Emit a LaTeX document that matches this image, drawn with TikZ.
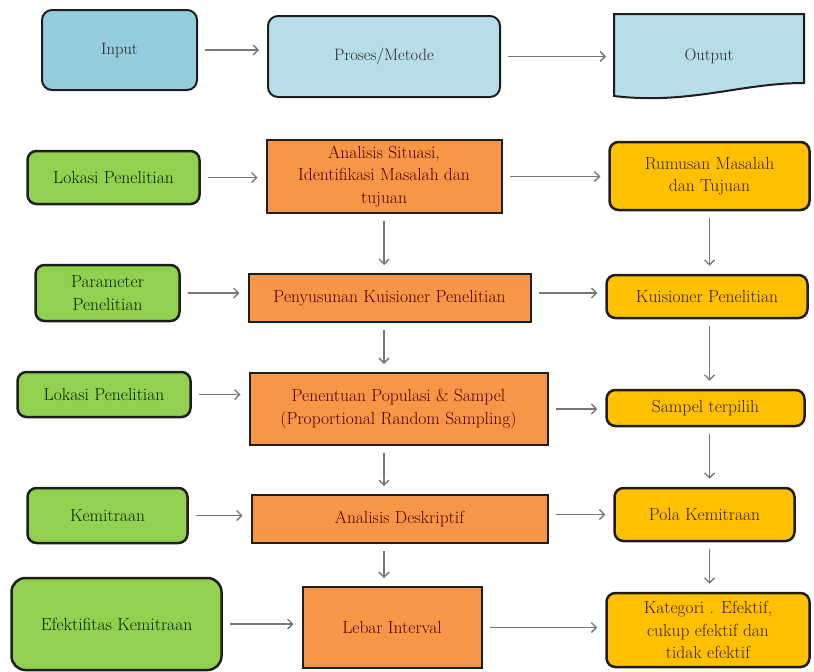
\documentclass[tikz,border=0pt]{standalone}
\usepackage{xcolor}
\usepackage{tikz}
\usetikzlibrary{shapes.geometric, arrows.meta, positioning, backgrounds}

\definecolor{inblue}{HTML}{93CDDD}
\definecolor{procblue}{HTML}{B7DEE8}
\definecolor{leafgreen}{HTML}{92D050}
\definecolor{tanorange}{HTML}{F79646}
\definecolor{goldyellow}{HTML}{FFC000}
\definecolor{edgedark}{HTML}{1E1E1E}
\definecolor{arrowgray}{HTML}{777777}

\tikzstyle{headbox} = [rectangle, rounded corners=10pt, draw=edgedark, line width=2pt, align=center, inner sep=0pt, text=black!85, font=\fontsize{16.5}{21}\selectfont]
\tikzstyle{sourcebox} = [rectangle, rounded corners=9pt, draw=edgedark, line width=2.5pt, fill=leafgreen, align=center, inner sep=0pt, text=green!15!black, font=\fontsize{17.5}{22.5}\selectfont]
\tikzstyle{process} = [rectangle, draw=edgedark, line width=2pt, fill=tanorange, align=center, inner sep=0pt, text=red!30!black, font=\fontsize{17.5}{22.5}\selectfont]
\tikzstyle{result} = [rectangle, rounded corners=9pt, draw=edgedark, line width=2.5pt, fill=goldyellow, align=center, inner sep=0pt, text=brown!25!black, font=\fontsize{17.5}{22.5}\selectfont]
\tikzstyle{line} = [draw, arrowgray, line width=1.3pt, -{Straight Barb[length=5pt,width=10pt]}, shorten <=7pt, shorten >=8pt]

\begin{document}
\begin{tikzpicture}[x=1pt, y=1pt]
    \useasboundingbox (0,0) rectangle (814,-672);

    % Legend
    \node [headbox, fill=procblue, minimum width=232pt, minimum height=81pt] at (384,-56.5) (proses) {Proses/Metode};
    \node [headbox, fill=inblue, left of=proses, node distance=264.5pt, yshift=6.5pt, minimum width=155pt, minimum height=80pt] (input) {Input};
    \node [headbox, draw=none, right of=proses, node distance=325pt, yshift=0.5pt, minimum width=188pt, minimum height=82pt] (output) {Output};
    \begin{scope}[on background layer]
        \draw [draw=edgedark, line width=2pt, fill=procblue] (output.north west) -- (output.north east) -- ([yshift=15pt]output.south east) .. controls ([xshift=-63pt,yshift=15pt]output.south east) and ([xshift=75pt,yshift=-7pt]output.south west) .. ([yshift=2pt]output.south west) -- cycle;
    \end{scope}

    % Proses
    \node [process, below of=proses, node distance=120pt, minimum width=235pt, minimum height=73pt] (analisis) {Analisis Situasi,\\Identifikasi Masalah dan\\tujuan};
    \node [process, below of=analisis, node distance=121.5pt, xshift=5.5pt, minimum width=282pt, minimum height=48pt] (penyusunan) {Penyusunan Kuisioner Penelitian};
    \node [process, below of=penyusunan, node distance=111pt, xshift=9pt, minimum width=298pt, minimum height=72pt] (penentuan) {Penentuan Populasi \& Sampel\\(Proportional Random Sampling)};
    \node [process, below of=penentuan, node distance=110pt, xshift=1pt, minimum width=296pt, minimum height=48pt] (deskriptif) {Analisis Deskriptif};
    \node [process, below of=deskriptif, node distance=108.5pt, xshift=-7.5pt, minimum width=179pt, minimum height=81pt] (lebar) {Lebar Interval};

    % Input
    \node [sourcebox, left of=analisis, node distance=270.5pt, yshift=-1pt, minimum width=172pt, minimum height=53pt] (lokasi1) {Lokasi Penelitian};
    \node [sourcebox, left of=penyusunan, node distance=282pt, yshift=5pt, minimum width=144pt, minimum height=56pt] (parameter) {Parameter\\Penelitian};
    \node [sourcebox, left of=penentuan, node distance=294.5pt, yshift=14.5pt, minimum width=173pt, minimum height=45pt] (lokasi2) {Lokasi Penelitian};
    \node [sourcebox, left of=deskriptif, node distance=292pt, yshift=3.5pt, minimum width=160pt, minimum height=55pt] (kemitraan) {Kemitraan};
    \node [sourcebox, rounded corners=14pt, left of=lebar, node distance=275.5pt, yshift=3.5pt, minimum width=210pt, minimum height=92pt] (efektifitas) {Efektifitas Kemitraan};

    % Output
    \node [result, right of=analisis, node distance=325.5pt, yshift=0.5pt, minimum width=200pt, minimum height=68pt] (rumusan) {Rumusan Masalah\\dan Tujuan};
    \node [result, right of=penyusunan, node distance=317.5pt, yshift=1.5pt, minimum width=201pt, minimum height=43pt] (kuisioner) {Kuisioner Penelitian};
    \node [result, right of=penentuan, node distance=307pt, yshift=1pt, minimum width=198pt, minimum height=36pt] (sampel) {Sampel terpilih};
    \node [result, right of=deskriptif, node distance=305pt, yshift=4.5pt, minimum width=180pt, minimum height=53pt] (pola) {Pola Kemitraan};
    \node [result, right of=lebar, node distance=316pt, yshift=-2.5pt, minimum width=203pt, minimum height=74pt] (kategori) {Kategori . Efektif,\\cukup efektif dan\\tidak efektif};

    % Edges
    \path [line] (input) -- (input -| proses.west);
    \path [line] (proses) -- (proses -| output.west);
    \path [line] (lokasi1) -- (lokasi1 -| analisis.west);
    \path [line] (analisis) -- (analisis -| rumusan.west);
    \path [line] (parameter) -- (parameter -| penyusunan.west);
    \path [line] (parameter -| penyusunan.east) -- (parameter -| kuisioner.west);
    \path [line] (lokasi2) -- (lokasi2 -| penentuan.west);
    \path [line] (penentuan) -- (penentuan -| sampel.west);
    \path [line] (kemitraan) -- (kemitraan -| deskriptif.west);
    \path [line] (pola -| deskriptif.east) -- (pola);
    \path [line] (efektifitas) -- (efektifitas -| lebar.west);
    \path [line] (lebar) -- (lebar -| kategori.west);

    \path [line] (analisis) -- (analisis |- penyusunan.north);
    \path [line] (penyusunan.south -| analisis) -- (analisis |- penentuan.north);
    \path [line] (penentuan.south -| analisis) -- (analisis |- deskriptif.north);
    \path [line] (deskriptif.south -| analisis) -- (analisis |- lebar.north);
    \path [line] (rumusan) -- (rumusan |- kuisioner.north);
    \path [line] (kuisioner.south -| rumusan) -- (rumusan |- sampel.north);
    \path [line] (sampel.south -| rumusan) -- (rumusan |- pola.north);
    \path [line] (pola.south -| rumusan) -- (rumusan |- kategori.north);
\end{tikzpicture}
\end{document}
